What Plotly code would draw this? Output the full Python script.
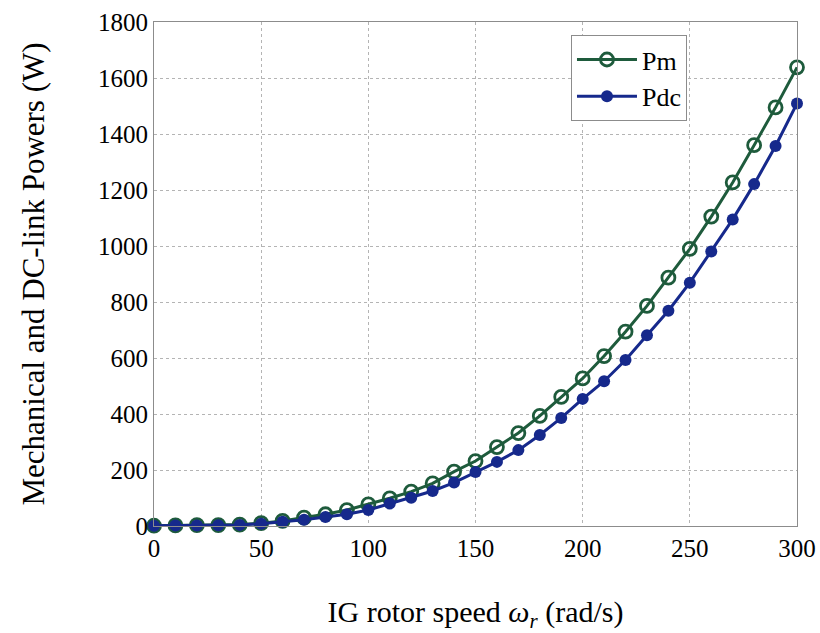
import plotly.graph_objects as go

speed = list(range(0, 301, 10))
pm = [1, 2, 3, 3, 5, 10, 18, 30, 42, 57, 77, 99, 123, 152, 194, 232, 282, 332, 393, 461,
      527, 607, 694, 786, 887, 990, 1105, 1227, 1360, 1495, 1638]
pdc = [1, 2, 2, 3, 4, 8, 15, 22, 32, 42, 57, 80, 101, 125, 155, 193, 229, 271, 325, 386,
       454, 517, 593, 681, 769, 869, 980, 1095, 1221, 1357, 1509]
x_ticks = [0, 50, 100, 150, 200, 250, 300]
y_ticks = [0, 200, 400, 600, 800, 1000, 1200, 1400, 1600, 1800]

GREEN = "#1e5b3c"
BLUE = "#16298c"
FONT = "Liberation Serif"

fig = go.Figure()
fig.add_trace(go.Scatter(
    x=speed, y=pm, name="Pm", mode="lines+markers",
    line=dict(color=GREEN, width=3),
    marker=dict(symbol="circle-open", size=13, color=GREEN, line=dict(width=2.8, color=GREEN)),
    cliponaxis=False,
))
fig.add_trace(go.Scatter(
    x=speed, y=pdc, name="Pdc", mode="lines+markers",
    line=dict(color=BLUE, width=3),
    marker=dict(symbol="circle", size=12, color=BLUE),
    cliponaxis=False,
))

axis_common = dict(
    showline=True, linecolor="#8c8c8c", linewidth=1, mirror=True,
    showgrid=True, gridcolor="#b4b4b4", griddash="dot", gridwidth=1,
    zeroline=False, ticks="", automargin=False,
    tickfont=dict(family=FONT, size=25, color="black"),
)

fig.update_layout(
    template="none",
    width=820, height=633,
    margin=dict(l=154, r=23, t=22, b=107, autoexpand=False),
    paper_bgcolor="white", plot_bgcolor="white",
    font=dict(family=FONT, size=25, color="black"),
    showlegend=True,
    legend=dict(
        x=0.6485, y=0.974, xanchor="left", yanchor="top",
        bgcolor="white", bordercolor="#8c8c8c", borderwidth=1,
        font=dict(family=FONT, size=26, color="black"),
        itemwidth=60, tracegroupgap=0,
    ),
    xaxis=dict(
        range=[0, 300], tickvals=x_ticks,
        title=dict(text="IG rotor speed <i>ω<sub>r</sub></i> (rad/s)",
                   font=dict(family=FONT, size=30, color="black"), standoff=40),
        **axis_common,
    ),
    yaxis=dict(
        range=[0, 1800], tickvals=y_ticks,
        title=dict(text="Mechanical and DC-link Powers (W)",
                   font=dict(family=FONT, size=31, color="black"), standoff=44),
        **axis_common,
    ),
)

fig.write_html("out.html")
